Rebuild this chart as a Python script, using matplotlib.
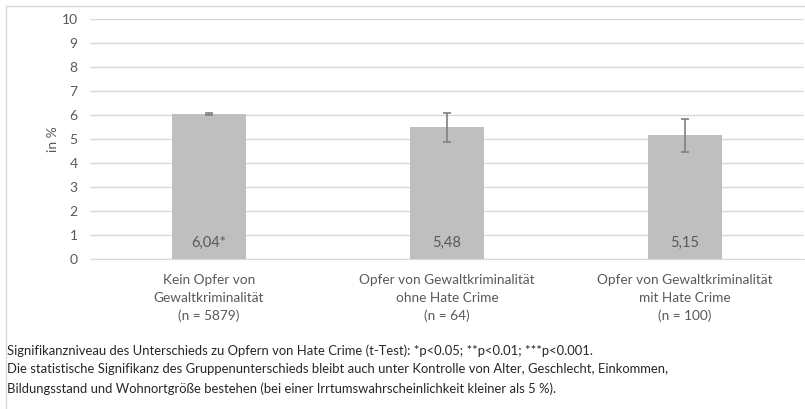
import matplotlib
matplotlib.use("Agg")
import matplotlib.pyplot as plt
from matplotlib.lines import Line2D

plt.rcParams['font.family'] = ['Lato', 'DejaVu Sans']

# --- data ---
categories = [
    "Kein Opfer von\nGewaltkriminalität\n(n = 5879)",
    "Opfer von Gewaltkriminalität\nohne Hate Crime\n(n = 64)",
    "Opfer von Gewaltkriminalität\nmit Hate Crime\n(n = 100)",
]
values = [6.04, 5.48, 5.15]
errors = [0.05, 0.59, 0.70]
value_labels = ["6,04*", "5,48", "5,15"]
yticks = list(range(0, 11))

footnote = ("Signifikanzniveau des Unterschieds zu Opfern von Hate Crime (t-Test): *p<0.05; **p<0.01; ***p<0.001.\n"
            "Die statistische Signifikanz des Gruppenunterschieds bleibt auch unter Kontrolle von Alter, Geschlecht, Einkommen,\n"
            "Bildungsstand und Wohnortgröße bestehen (bei einer Irrtumswahrscheinlichkeit kleiner als 5 %).")

TXT = '#595959'
GRID = '#D9D9D9'

W, H = 805, 409
fig = plt.figure(figsize=(W / 100, H / 100), dpi=100)
ax = fig.add_axes([90 / W, (H - 259) / H, (804 - 90) / W, 240 / H])

x = list(range(len(values)))
ax.bar(x, values, width=0.31, color='#BFBFBF', zorder=2)
ax.errorbar(x, values, yerr=errors, fmt='none', ecolor='#808080',
            elinewidth=1.2, capsize=3, capthick=1.2, zorder=3)

for xi, lab in zip(x, value_labels):
    ax.annotate(lab, (xi, 0), xytext=(0, 11.5), textcoords='offset points',
                ha='center', va='center', fontsize=10.5, color=TXT, zorder=4)

ax.set_xlim(-0.5, 2.5)
ax.set_ylim(0, 10)
ax.set_yticks(yticks)
ax.set_xticks(x)
ax.set_xticklabels(categories, linespacing=1.56)
ax.tick_params(axis='both', length=0, colors=TXT)
ax.tick_params(axis='x', pad=11, labelsize=9.8)
ax.tick_params(axis='y', pad=9, labelsize=10)
ax.grid(axis='y', color=GRID, linewidth=1, zorder=0)
for side in ['top', 'right', 'left']:
    ax.spines[side].set_visible(False)
ax.spines['bottom'].set_color(GRID)
ax.set_ylabel("in %", color=TXT, fontsize=10, labelpad=2)

# chart frame (left and top border)
fig.add_artist(Line2D([5.5 / W, 5.5 / W], [0, 1 - 5.5 / H], color=GRID, lw=1, transform=fig.transFigure))
fig.add_artist(Line2D([5.5 / W, 1], [1 - 5.5 / H, 1 - 5.5 / H], color=GRID, lw=1, transform=fig.transFigure))

fig.text(7 / W, 1 - 344 / H, footnote, ha='left', va='top', fontsize=9.4,
         color='#262626', linespacing=1.68)

fig.savefig("out.png", dpi=100)
